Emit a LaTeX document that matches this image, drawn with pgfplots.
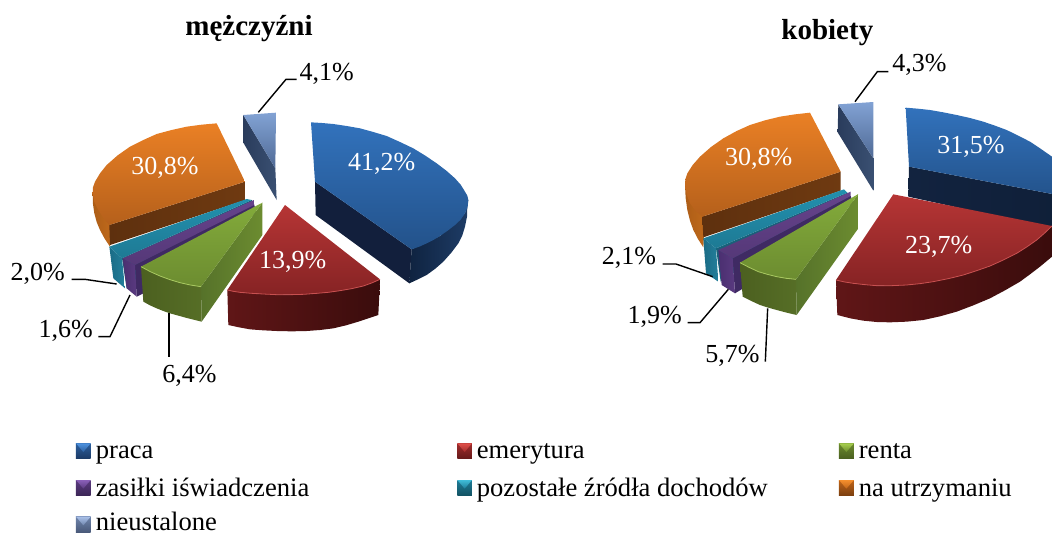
\documentclass[border=0pt]{standalone}
\usepackage{fontspec}
\setmainfont{Liberation Serif}
\usepackage{pgfplots}
\pgfplotsset{compat=1.18}
\newcommand{\hx}[1]{\definecolor{#1}{HTML}{#1}}
\hx{2A3C5C}\hx{3A5072}\hx{121F3C}\hx{0F2340}\hx{1E3C66}\hx{AD5D17}\hx{C06A1B}\hx{5E300E}\hx{6F3A11}
\hx{19617A}\hx{1A6C86}\hx{237F9B}\hx{3F2A63}\hx{4A2F70}\hx{5A3A80}\hx{56722A}\hx{6C8C30}\hx{4C6020}
\hx{566E26}\hx{A8C860}\hx{601617}\hx{3A0C0C}\hx{C85050}\hx{12233F}\hx{0F1F38}
\hx{4F93E0}\hx{2C5F9E}\hx{1B3A66}\hx{E0504A}\hx{A02C2C}\hx{661A1A}\hx{A8CF4F}\hx{6B8A2E}\hx{4A6020}
\hx{8A5FB8}\hx{5B3B80}\hx{3C2657}\hx{3FBCD8}\hx{1F7D98}\hx{125263}\hx{F58F2D}\hx{C0651A}\hx{7C3F0F}
\hx{A9C0E8}\hx{6F85AC}\hx{4A5A7A}
\newcommand{\lab}{\fontsize{26}{30}\selectfont}
\newcommand{\leg}{\fontsize{26.6}{30}\selectfont}
\newcommand{\ttl}{\fontsize{29}{33}\selectfont\bfseries}
% coordinates: 3x pixels of the reference, y downwards
\pgfplotsset{
  canvas/.style={hide axis, scale only axis, width=1052pt, height=533pt,
    at={(0,0)}, anchor=south west, y dir=reverse, ymin=0, ymax=1599,
    no markers, clip mode=individual},
  face/.style={draw=none, forget plot},
  rim/.style={forget plot, line width=0.8pt},
  leader/.style={black, forget plot, line width=1.4pt},
}
% legend square: x0 xm x1 y0 ym y1 light mid dark
\newcommand{\lgd}[9]{%
  \addplot[draw=none, top color=#8, bottom color=#9, forget plot] coordinates {(#1,#4) (#3,#4) (#3,#6) (#1,#6) (#1,#4)};
  \addplot[draw=none, top color=#7, bottom color=#8, forget plot] coordinates {(#1,#4) (#3,#4) (#2,#5) (#1,#4)};
}
\begin{document}
\begin{tikzpicture}
\definecolor{bT}{HTML}{3272BC}\definecolor{bB}{HTML}{23528A}
\definecolor{rT}{HTML}{B63535}\definecolor{rB}{HTML}{862324}
\definecolor{gT}{HTML}{83AB3B}\definecolor{gB}{HTML}{6C8C30}
\definecolor{oT}{HTML}{EA8025}\definecolor{oB}{HTML}{B5601B}
\definecolor{pT}{HTML}{66438C}\definecolor{pB}{HTML}{553878}
\definecolor{tT}{HTML}{2290AE}\definecolor{tB}{HTML}{1E7A94}
\definecolor{lT}{HTML}{82A2D4}\definecolor{lB}{HTML}{4F6A95}
\path[use as bounding box] (0,0) rectangle (1052pt,533pt);
%---------------------------------------- mezczyzni + legend
\begin{axis}[canvas, xmin=0, xmax=3156]
% nieustalone
\addplot[face, left color=2A3C5C, right color=3A5072] coordinates {(730,345) (730,428) (830,600) (826,505) (730,345)};
\addplot[face, top color=lT, bottom color=lB] coordinates {(730,345) (828,338) (826,505) (730,345)};
% praca
\addplot[face, fill=121F3C] coordinates {(945,545) (947,645) (1228,850) (1235,748) (945,545)};
\addplot[face, left color=0F2340, right color=1E3C66] coordinates {(1235,748) (1228,850) (1254,838) (1280,825) (1306,806) (1330,785) (1354,758) (1375,730) (1387,706) (1395,680) (1401,650) (1402,620) (1405,600) (1395,640) (1320,708) (1235,748)};
\addplot[face, top color=bT, bottom color=bB] coordinates {(933,367) (966,369) (1000,372) (1040,378) (1080,385) (1120,396) (1160,408) (1200,426) (1240,445) (1276,467) (1310,490) (1339,512) (1365,535) (1382,554) (1395,575) (1402,587) (1405,600) (1403,620) (1395,640) (1382,659) (1365,675) (1343,692) (1320,708) (1300,720) (1280,730) (1258,740) (1235,748) (945,545) (933,367)};
% na utrzymaniu
\addplot[face, left color=AD5D17, right color=C06A1B] coordinates {(278,580) (279,612) (283,640) (290,666) (300,690) (314,716) (330,740) (335,680) (278,580)};
\addplot[face, left color=5E300E, right color=6F3A11] coordinates {(328,675) (735,545) (735,600) (330,735) (328,675)};
\addplot[face, top color=oT, bottom color=oB] coordinates {(650,370) (605,374) (560,380) (515,390) (470,402) (430,420) (390,440) (353,466) (320,495) (300,520) (285,545) (279,562) (278,580) (283,606) (295,630) (310,654) (328,675) (735,545) (650,370)};
% pozostale
\addplot[face, fill=19617A] coordinates {(366,775) (755,600) (762,612) (380,865) (366,775)};
\addplot[face, left color=1A6C86, right color=237F9B] coordinates {(328,740) (340,835) (375,865) (366,775) (328,740)};
\addplot[face, top color=tT, bottom color=tB] coordinates {(328,740) (740,597) (755,600) (366,775) (328,740)};
% zasilki
\addplot[face, fill=3F2A63] coordinates {(405,795) (762,612) (770,640) (430,880) (410,890) (405,795)};
\addplot[face, left color=4A2F70, right color=5A3A80] coordinates {(368,775) (380,865) (410,890) (405,795) (368,775)};
\addplot[face, top color=pT, bottom color=pB] coordinates {(368,775) (762,600) (762,615) (405,795) (368,775)};
% renta
\addplot[face, left color=56722A, right color=6C8C30] coordinates {(603,860) (787,608) (787,705) (605,965) (603,860)};
\addplot[face, left color=4C6020, right color=566E26] coordinates {(423,800) (430,905) (450,916) (470,925) (490,933) (510,940) (557,953) (605,965) (603,860) (571,855) (540,848) (510,839) (480,828) (451,815) (423,800)};
\addplot[face, top color=gT, bottom color=gB] coordinates {(423,800) (451,815) (480,828) (510,839) (540,848) (571,855) (603,860) (787,608) (423,800)};
\addplot[rim, color=A8C860] coordinates {(423,800) (451,815) (480,828) (510,839) (540,848) (571,855) (603,860)};
% emerytura
\addplot[face, left color=601617, right color=3A0C0C] coordinates {(682,870) (685,975) (717,982) (750,988) (790,991) (830,993) (875,994) (920,993) (960,990) (1000,985) (1038,976) (1075,965) (1105,955) (1135,945) (1140,838) (1090,858) (1020,872) (950,880) (870,884) (790,882) (720,877) (682,870)};
\addplot[face, top color=rT, bottom color=rB] coordinates {(682,870) (700,874) (720,877) (755,880) (790,882) (830,884) (870,884) (910,883) (950,880) (985,877) (1020,872) (1055,866) (1090,858) (1115,849) (1140,838) (855,615) (682,870)};
\addplot[rim, color=C85050] coordinates {(682,870) (700,874) (720,877) (755,880) (790,882) (830,884) (870,884) (910,883) (950,880) (985,877) (1020,872) (1055,866) (1090,858) (1115,849) (1140,838)};
% leaders
\addplot[leader] coordinates {(775,337) (858,238) (890,238)};
\addplot[leader] coordinates {(215,838) (255,838) (350,852)};
\addplot[leader] coordinates {(295,1010) (330,1010) (390,885)};
\addplot[leader] coordinates {(507,940) (507,1070)};
% labels
\node[font=\ttl, anchor=base] at (747,105) {mężczyźni};
\node[font=\lab, anchor=base, white] at (495,522) {30,8\%};
\node[font=\lab, anchor=base, white] at (1145,512) {41,2\%};
\node[font=\lab, anchor=base, white] at (878,805) {13,9\%};
\node[font=\lab, anchor=base] at (980,240) {4,1\%};
\node[font=\lab, anchor=base] at (113,840) {2,0\%};
\node[font=\lab, anchor=base] at (197,1012) {1,6\%};
\node[font=\lab, anchor=base] at (568,1147) {6,4\%};
% legend
\lgd{228}{250}{272}{1330}{1356}{1376}{4F93E0}{2C5F9E}{1B3A66}
\lgd{1372}{1394}{1416}{1330}{1356}{1376}{E0504A}{A02C2C}{661A1A}
\lgd{2517}{2539}{2562}{1330}{1356}{1376}{A8CF4F}{6B8A2E}{4A6020}
\lgd{228}{250}{272}{1440}{1466}{1486}{8A5FB8}{5B3B80}{3C2657}
\lgd{1372}{1394}{1416}{1440}{1466}{1486}{3FBCD8}{1F7D98}{125263}
\lgd{2517}{2539}{2562}{1440}{1466}{1486}{F58F2D}{C0651A}{7C3F0F}
\lgd{228}{250}{272}{1550}{1576}{1596}{A9C0E8}{6F85AC}{4A5A7A}
\node[font=\leg, anchor=base west, inner sep=0pt] at (287,1375) {praca};
\node[font=\leg, anchor=base west, inner sep=0pt] at (1430,1375) {emerytura};
\node[font=\leg, anchor=base west, inner sep=0pt] at (2576,1375) {renta};
\node[font=\leg, anchor=base west, inner sep=0pt] at (287,1488) {zasiłki iświadczenia};
\node[font=\leg, anchor=base west, inner sep=0pt] at (1430,1488) {pozostałe źródła dochodów};
\node[font=\leg, anchor=base west, inner sep=0pt] at (2576,1488) {na utrzymaniu};
\node[font=\leg, anchor=base west, inner sep=0pt] at (287,1592) {nieustalone};
\end{axis}
%---------------------------------------- kobiety
\begin{axis}[canvas, xmin=-1770, xmax=1386]
% nieustalone
\addplot[face, left color=2A3C5C, right color=3A5072] coordinates {(745,313) (743,397) (850,572) (850,475) (745,313)};
\addplot[face, top color=lT, bottom color=lB] coordinates {(745,313) (850,306) (850,475) (745,313)};
% praca
\addplot[face, left color=12233F, right color=0F1F38] coordinates {(957,500) (955,590) (1450,699) (1450,594) (957,500)};
\addplot[face, top color=bT, bottom color=bB] coordinates {(947,323) (983,326) (1020,330) (1060,337) (1100,345) (1140,354) (1180,365) (1215,377) (1250,390) (1285,407) (1320,425) (1353,447) (1386,470) (1418,494) (1450,520) (1450,594) (957,500) (947,323)};
% na utrzymaniu
\addplot[face, left color=AD5D17, right color=C06A1B] coordinates {(285,555) (287,594) (292,630) (300,662) (310,690) (324,717) (340,742) (345,655) (285,555)};
\addplot[face, left color=5E300E, right color=6F3A11] coordinates {(337,650) (752,515) (752,572) (340,712) (337,650)};
\addplot[face, top color=oT, bottom color=oB] coordinates {(660,338) (615,343) (570,350) (525,361) (480,375) (440,393) (400,415) (363,441) (330,470) (308,495) (292,520) (286,538) (285,555) (290,584) (300,610) (316,632) (337,650) (752,515) (660,338)};
% pozostale
\addplot[face, fill=19617A] coordinates {(378,745) (772,578) (782,590) (392,845) (378,745)};
\addplot[face, left color=1A6C86, right color=237F9B] coordinates {(340,715) (348,820) (385,845) (378,745) (340,715)};
\addplot[face, top color=tT, bottom color=tB] coordinates {(340,715) (762,568) (772,578) (378,745) (340,715)};
% zasilki
\addplot[face, fill=3F2A63] coordinates {(428,775) (782,588) (790,610) (455,868) (435,880) (428,775)};
\addplot[face, left color=4A2F70, right color=5A3A80] coordinates {(385,750) (395,855) (435,880) (428,775) (385,750)};
\addplot[face, top color=pT, bottom color=pB] coordinates {(385,750) (782,575) (782,588) (428,775) (385,750)};
% renta
\addplot[face, left color=56722A, right color=6C8C30] coordinates {(618,838) (805,582) (805,685) (620,945) (618,838)};
\addplot[face, left color=4C6020, right color=566E26] coordinates {(450,788) (458,890) (484,903) (510,915) (535,923) (560,930) (590,938) (620,945) (618,838) (589,835) (560,830) (532,823) (505,815) (477,802) (450,788)};
\addplot[face, top color=gT, bottom color=gB] coordinates {(450,788) (477,802) (505,815) (532,823) (560,830) (589,835) (618,838) (805,582) (450,788)};
\addplot[rim, color=A8C860] coordinates {(450,788) (477,802) (505,815) (532,823) (560,830) (589,835) (618,838)};
% emerytura
\addplot[face, left color=601617, right color=3A0C0C] coordinates {(738,840) (742,945) (781,955) (820,962) (860,966) (900,967) (950,965) (1000,960) (1050,949) (1100,935) (1150,916) (1200,895) (1245,871) (1290,845) (1320,823) (1350,800) (1368,785) (1386,770) (1386,678) (1340,720) (1280,760) (1200,798) (1120,825) (1030,845) (950,855) (860,857) (790,850) (738,840)};
\addplot[face, top color=rT, bottom color=rB] coordinates {(738,840) (764,846) (790,850) (825,854) (860,857) (905,857) (950,855) (990,851) (1030,845) (1075,836) (1120,825) (1160,812) (1200,798) (1240,780) (1280,760) (1310,741) (1340,720) (1363,700) (1386,678) (910,583) (738,840)};
\addplot[rim, color=C85050] coordinates {(738,840) (764,846) (790,850) (825,854) (860,857) (905,857) (950,855) (990,851) (1030,845) (1075,836) (1120,825) (1160,812) (1200,798) (1240,780) (1280,760) (1310,741) (1340,720) (1363,700) (1386,678)};
% leaders
\addplot[leader] coordinates {(795,305) (862,215) (895,215)};
\addplot[leader] coordinates {(218,792) (258,792) (368,830)};
\addplot[leader] coordinates {(293,968) (330,968) (415,868)};
\addplot[leader] coordinates {(533,925) (526,1085)};
% labels
\node[font=\ttl, anchor=base] at (712,118) {kobiety};
\node[font=\lab, anchor=base, white] at (1143,460) {31,5\%};
\node[font=\lab, anchor=base, white] at (1046,760) {23,7\%};
\node[font=\lab, anchor=base, white] at (506,495) {30,8\%};
\node[font=\lab, anchor=base] at (988,215) {4,3\%};
\node[font=\lab, anchor=base] at (117,793) {2,1\%};
\node[font=\lab, anchor=base] at (194,969) {1,9\%};
\node[font=\lab, anchor=base] at (427,1087) {5,7\%};
\end{axis}
\end{tikzpicture}
\end{document}
